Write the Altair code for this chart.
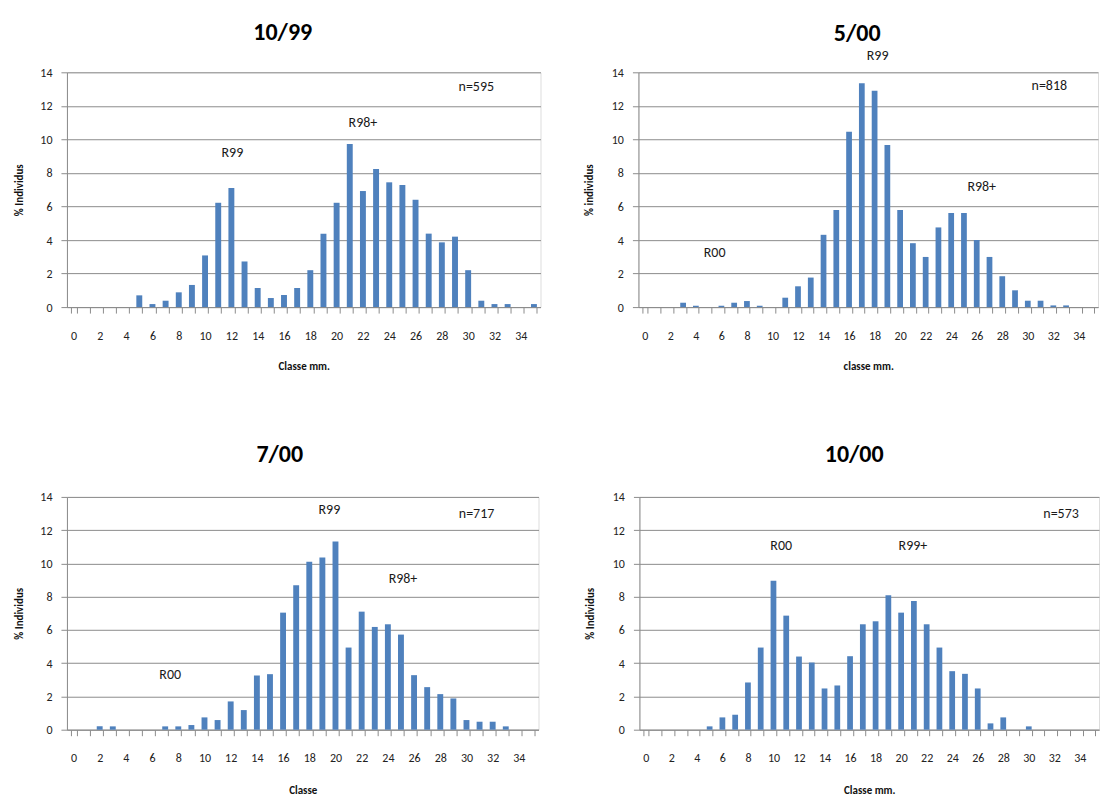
import altair as alt
import pandas as pd

FONT = "Carlito, Lato, sans-serif"
BLUE = "#4F81BD"
GRID = "#8C8C8C"

classes = list(range(36))

v_1099 = [0, 0, 0, 0, 0, 0.7, 0.18, 0.38, 0.88, 1.32, 3.08, 6.22, 7.1, 2.72, 1.14, 0.54,
          0.72, 1.14, 2.2, 4.38, 6.22, 9.72, 6.92, 8.24, 7.44, 7.28, 6.4, 4.38, 3.86, 4.2,
          2.2, 0.38, 0.18, 0.18, 0, 0.18]
v_500 = [0, 0, 0, 0.26, 0.08, 0, 0.08, 0.26, 0.36, 0.08, 0, 0.56, 1.24, 1.76, 4.31, 5.79,
         10.46, 13.35, 12.9, 9.66, 5.79, 3.81, 2.99, 4.75, 5.61, 5.61, 4.0, 2.99, 1.84, 1.0,
         0.38, 0.38, 0.1, 0.1, 0, 0]
v_700 = [0, 0, 0.2, 0.2, 0, 0, 0, 0.2, 0.2, 0.28, 0.74, 0.58, 1.7, 1.18, 3.26, 3.34,
         7.04, 8.68, 10.1, 10.36, 11.32, 4.94, 7.1, 6.18, 6.34, 5.72, 3.28, 2.56, 2.14, 1.88,
         0.58, 0.48, 0.48, 0.2, 0, 0]
v_1000 = [0, 0, 0, 0, 0, 0.2, 0.74, 0.9, 2.84, 4.94, 8.96, 6.86, 4.4, 4.04, 2.48, 2.66,
          4.42, 6.34, 6.52, 8.08, 7.04, 7.74, 6.34, 4.94, 3.52, 3.36, 2.48, 0.38, 0.74, 0,
          0.2, 0, 0, 0, 0, 0]

y_ticks = [0, 2, 4, 6, 8, 10, 12, 14]

# annotations: (text, class, value, dx)
notes_1099 = [("R99", 12, 9.2, 1), ("R98+", 22, 11.0, 0), ("n=595", 31, 13.15, -5)]
notes_500 = [("R99", 18, 14.95, 3), ("R98+", 26, 7.15, 5), ("R00", 5, 3.25, 6), ("n=818", 32, 13.2, -4)]
notes_700 = [("R99", 19, 13.2, 7), ("R98+", 25, 9.06, 2), ("R00", 7, 3.3, 5), ("n=717", 31, 12.96, -3)]
notes_1000 = [("R00", 11, 11.04, -5), ("R99+", 21, 11.04, -1), ("n=573", 33, 12.96, -6)]


def panel(title, values, ytitle, xtitle, notes, width, height, title_offset, title_dx,
          ytitle_pad, xtitle_pad):
    df = pd.DataFrame({"classe": classes, "pct": values})
    xscale = alt.Scale(paddingInner=0.55, paddingOuter=0.275)
    yscale = alt.Scale(domain=[0, 14])
    xaxis = alt.Axis(
        labelAngle=0,
        labelExpr="datum.value % 2 == 0 ? datum.label : ''",
        labelOverlap=False,
        labelFontSize=12,
        labelColor="#222222",
        labelPadding=17,
        labelFont=FONT,
        tickBand="extent",
        tickSize=6,
        tickColor=GRID,
        domainColor=GRID,
        titleFont=FONT,
        titleFontSize=11,
        titleFontWeight="bold",
        titleColor="#111111",
        titlePadding=xtitle_pad,
        grid=False,
    )
    yaxis = alt.Axis(
        values=y_ticks,
        grid=True,
        gridColor=GRID,
        gridWidth=1,
        tickSize=6,
        tickColor=GRID,
        domainColor=GRID,
        labelFontSize=12,
        labelColor="#222222",
        labelFont=FONT,
        labelPadding=9,
        labelOverlap=False,
        titleFont=FONT,
        titleFontSize=11,
        titleFontWeight="bold",
        titleColor="#111111",
        titlePadding=ytitle_pad,
    )
    xenc = alt.X("classe:O", title=xtitle, scale=xscale, axis=xaxis)
    yenc = alt.Y("pct:Q", title=ytitle, scale=yscale, axis=yaxis)
    bars = alt.Chart(df).mark_bar(color=BLUE).encode(x=xenc, y=yenc)
    layers = [bars]
    for text, cls, val, dx in notes:
        ndf = pd.DataFrame({"classe": [cls], "pct": [val], "label": [text]})
        layers.append(
            alt.Chart(ndf)
            .mark_text(font=FONT, fontSize=14, color="#1a1a1a", dx=dx)
            .encode(x=xenc, y=yenc, text="label:N")
        )
    return alt.layer(*layers).properties(
        width=width,
        height=height,
        title=alt.TitleParams(
            text=title, font=FONT, fontSize=24, fontWeight="bold", color="#000000",
            offset=title_offset, anchor="middle", dx=title_dx,
        ),
    )


p1 = panel("10/99", v_1099, "% Individus", "Classe mm.", notes_1099, 474, 235, 21, -21, 15, 19)
p2 = panel("5/00", v_500, "% individus", "classe mm.", notes_500, 460, 235, 3, -11, 17, 19)
p3 = panel("7/00", v_700, "% Individus", "Classe", notes_700, 472, 233, 24, -23, 15, 21)
p4 = panel("10/00", v_1000, "% Individus", "Classe mm.", notes_1000, 460, 233, 24, -15, 17, 21)

row1 = alt.hconcat(p1, p2, spacing=41)
row2 = alt.hconcat(p3, p4, spacing=44)

chart = (
    alt.vconcat(row1, row2, spacing=70)
    .properties(padding={"left": 5, "top": 12, "right": 0, "bottom": 0})
    .configure_view(strokeWidth=0)
    .configure(background="white")
)

chart.save("out.html", embed_options={"renderer": "svg", "actions": False})
